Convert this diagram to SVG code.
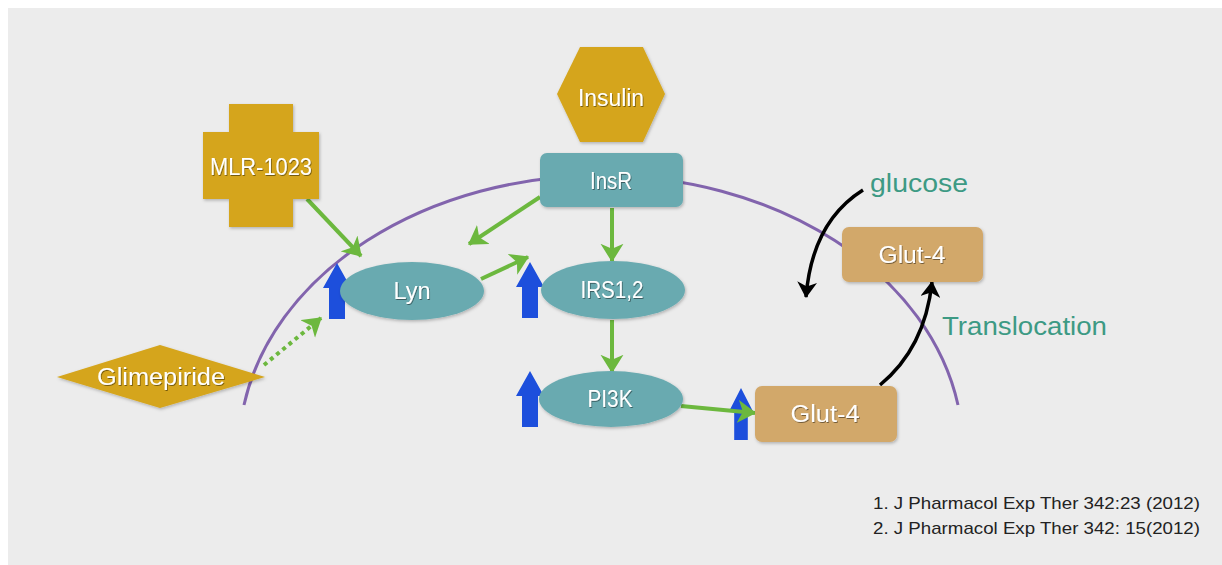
<svg xmlns="http://www.w3.org/2000/svg" width="1222" height="565" viewBox="0 0 1222 565">
<style>
.lbl{font-family:"Liberation Sans",Arial,sans-serif;font-size:23px;fill:#ffffff;text-anchor:middle;filter:url(#tsh)}
.gold{fill:#d5a51b}
.teal{fill:#69aab0}
.tan{fill:#d2a86b}
.blue{fill:#1d4fdc}
.g{stroke:#6cb83e;stroke-width:4;fill:none;marker-end:url(#ga)}
.k{stroke:#000;stroke-width:3.5;fill:none;marker-end:url(#ka)}
.note{font-family:"Liberation Sans",Arial,sans-serif;fill:#3d9a84;font-size:25px}
.ref{font-family:"Liberation Sans",Arial,sans-serif;fill:#222;font-size:17px}
</style>
<defs>
<filter id="sh" x="-20%" y="-20%" width="140%" height="140%"><feDropShadow dx="1" dy="1.5" stdDeviation="1.5" flood-color="#000" flood-opacity="0.25"/></filter>
<filter id="tsh" x="-10%" y="-30%" width="120%" height="160%"><feDropShadow dx="0.8" dy="1" stdDeviation="0.7" flood-color="#000" flood-opacity="0.45"/></filter>
<marker id="ga" viewBox="0 0 8 10" refX="7.5" refY="5" markerWidth="4.6" markerHeight="5.8" orient="auto" markerUnits="strokeWidth"><path d="M0,0 L8,5 L0,10 L2.2,5 z" fill="#6cb83e"/></marker>
<marker id="ka" viewBox="0 0 8 10" refX="7.5" refY="5" markerWidth="4.6" markerHeight="5.7" orient="auto" markerUnits="strokeWidth"><path d="M0,0 L8,5 L0,10 L2.2,5 z" fill="#000"/></marker>
<path id="uparrow" d="M0,-28 L14,-3 L8,-3 L8,28 L-8,28 L-8,-3 L-14,-3 z"/>
</defs>
<rect x="0" y="0" width="1222" height="565" fill="#ffffff"/>
<rect x="8" y="8" width="1214" height="557" fill="#ececec"/>
<path id="membrane" d="M244,405 A362,275 0 0 1 958,405" fill="none" stroke="#8264ad" stroke-width="3"/>

<g id="blue-arrows">
<use href="#uparrow" class="blue" transform="translate(337,291)"/>
<use href="#uparrow" class="blue" transform="translate(530,290)"/>
<use href="#uparrow" class="blue" transform="translate(530,399)"/>
<use href="#uparrow" class="blue" transform="translate(741,414) scale(0.85,0.93)"/>
</g>

<g id="connectors">
<line class="g" x1="307" y1="199" x2="361" y2="256"/>
<line class="g" x1="540" y1="197" x2="469" y2="244"/>
<line class="g" x1="481" y1="279" x2="528" y2="257"/>
<line class="g" x1="612" y1="208" x2="612" y2="261"/>
<line class="g" x1="612" y1="320" x2="612" y2="372"/>
<line class="g" x1="681" y1="406" x2="755" y2="413"/>
<line class="g" x1="264" y1="365" x2="321" y2="318" stroke-dasharray="4 4"/>
<path class="k" d="M863,190 Q812,222 806,297"/>
<path class="k" d="M880,385 Q925,348 932,282"/>
</g>

<g id="insulin">
<polygon class="gold" filter="url(#sh)" points="557,94 580,47 643,47 665,94 643,142 580,142"/>
<text class="lbl" x="611" y="106" textLength="66" lengthAdjust="spacingAndGlyphs">Insulin</text>
</g>
<g id="insr">
<rect class="teal" filter="url(#sh)" x="540" y="153" width="143" height="54" rx="7"/>
<text class="lbl" x="611" y="189" textLength="42" lengthAdjust="spacingAndGlyphs">InsR</text>
</g>
<g id="mlr1023">
<path class="gold" filter="url(#sh)" d="M229,104 H293 V132 H319 V199 H293 V227 H229 V199 H203 V132 H229 z"/>
<text class="lbl" x="261" y="175" textLength="102" lengthAdjust="spacingAndGlyphs">MLR-1023</text>
</g>
<g id="lyn">
<ellipse class="teal" filter="url(#sh)" cx="412" cy="291" rx="72" ry="29"/>
<text class="lbl" x="412" y="299" textLength="37" lengthAdjust="spacingAndGlyphs">Lyn</text>
</g>
<g id="irs">
<ellipse class="teal" filter="url(#sh)" cx="613" cy="290" rx="72" ry="29"/>
<text class="lbl" x="612" y="298" textLength="63" lengthAdjust="spacingAndGlyphs">IRS1,2</text>
</g>
<g id="pi3k">
<ellipse class="teal" filter="url(#sh)" cx="611" cy="399" rx="72" ry="28"/>
<text class="lbl" x="610" y="407" textLength="45" lengthAdjust="spacingAndGlyphs">PI3K</text>
</g>
<g id="glut4-bottom">
<rect class="tan" filter="url(#sh)" x="755" y="386" width="142" height="56" rx="7"/>
<text class="lbl" x="825" y="422" textLength="69" lengthAdjust="spacingAndGlyphs">Glut-4</text>
</g>
<g id="glut4-top">
<rect class="tan" filter="url(#sh)" x="842" y="227" width="141" height="55" rx="7"/>
<text class="lbl" x="912" y="263" textLength="67" lengthAdjust="spacingAndGlyphs">Glut-4</text>
</g>
<g id="glimepiride">
<polygon class="gold" filter="url(#sh)" points="57,377 160,345 265,377 160,408"/>
<text class="lbl" x="161" y="385" textLength="128" lengthAdjust="spacingAndGlyphs">Glimepiride</text>
</g>

<g id="labels">
<text class="note" x="870" y="192" textLength="98" lengthAdjust="spacingAndGlyphs">glucose</text>
<text class="note" x="942" y="335" textLength="165" lengthAdjust="spacingAndGlyphs">Translocation</text>
<text class="ref" x="873" y="509" textLength="327" lengthAdjust="spacingAndGlyphs">1. J Pharmacol Exp Ther 342:23 (2012)</text>
<text class="ref" x="873" y="534" textLength="327" lengthAdjust="spacingAndGlyphs">2. J Pharmacol Exp Ther 342: 15(2012)</text>
</g>
</svg>
